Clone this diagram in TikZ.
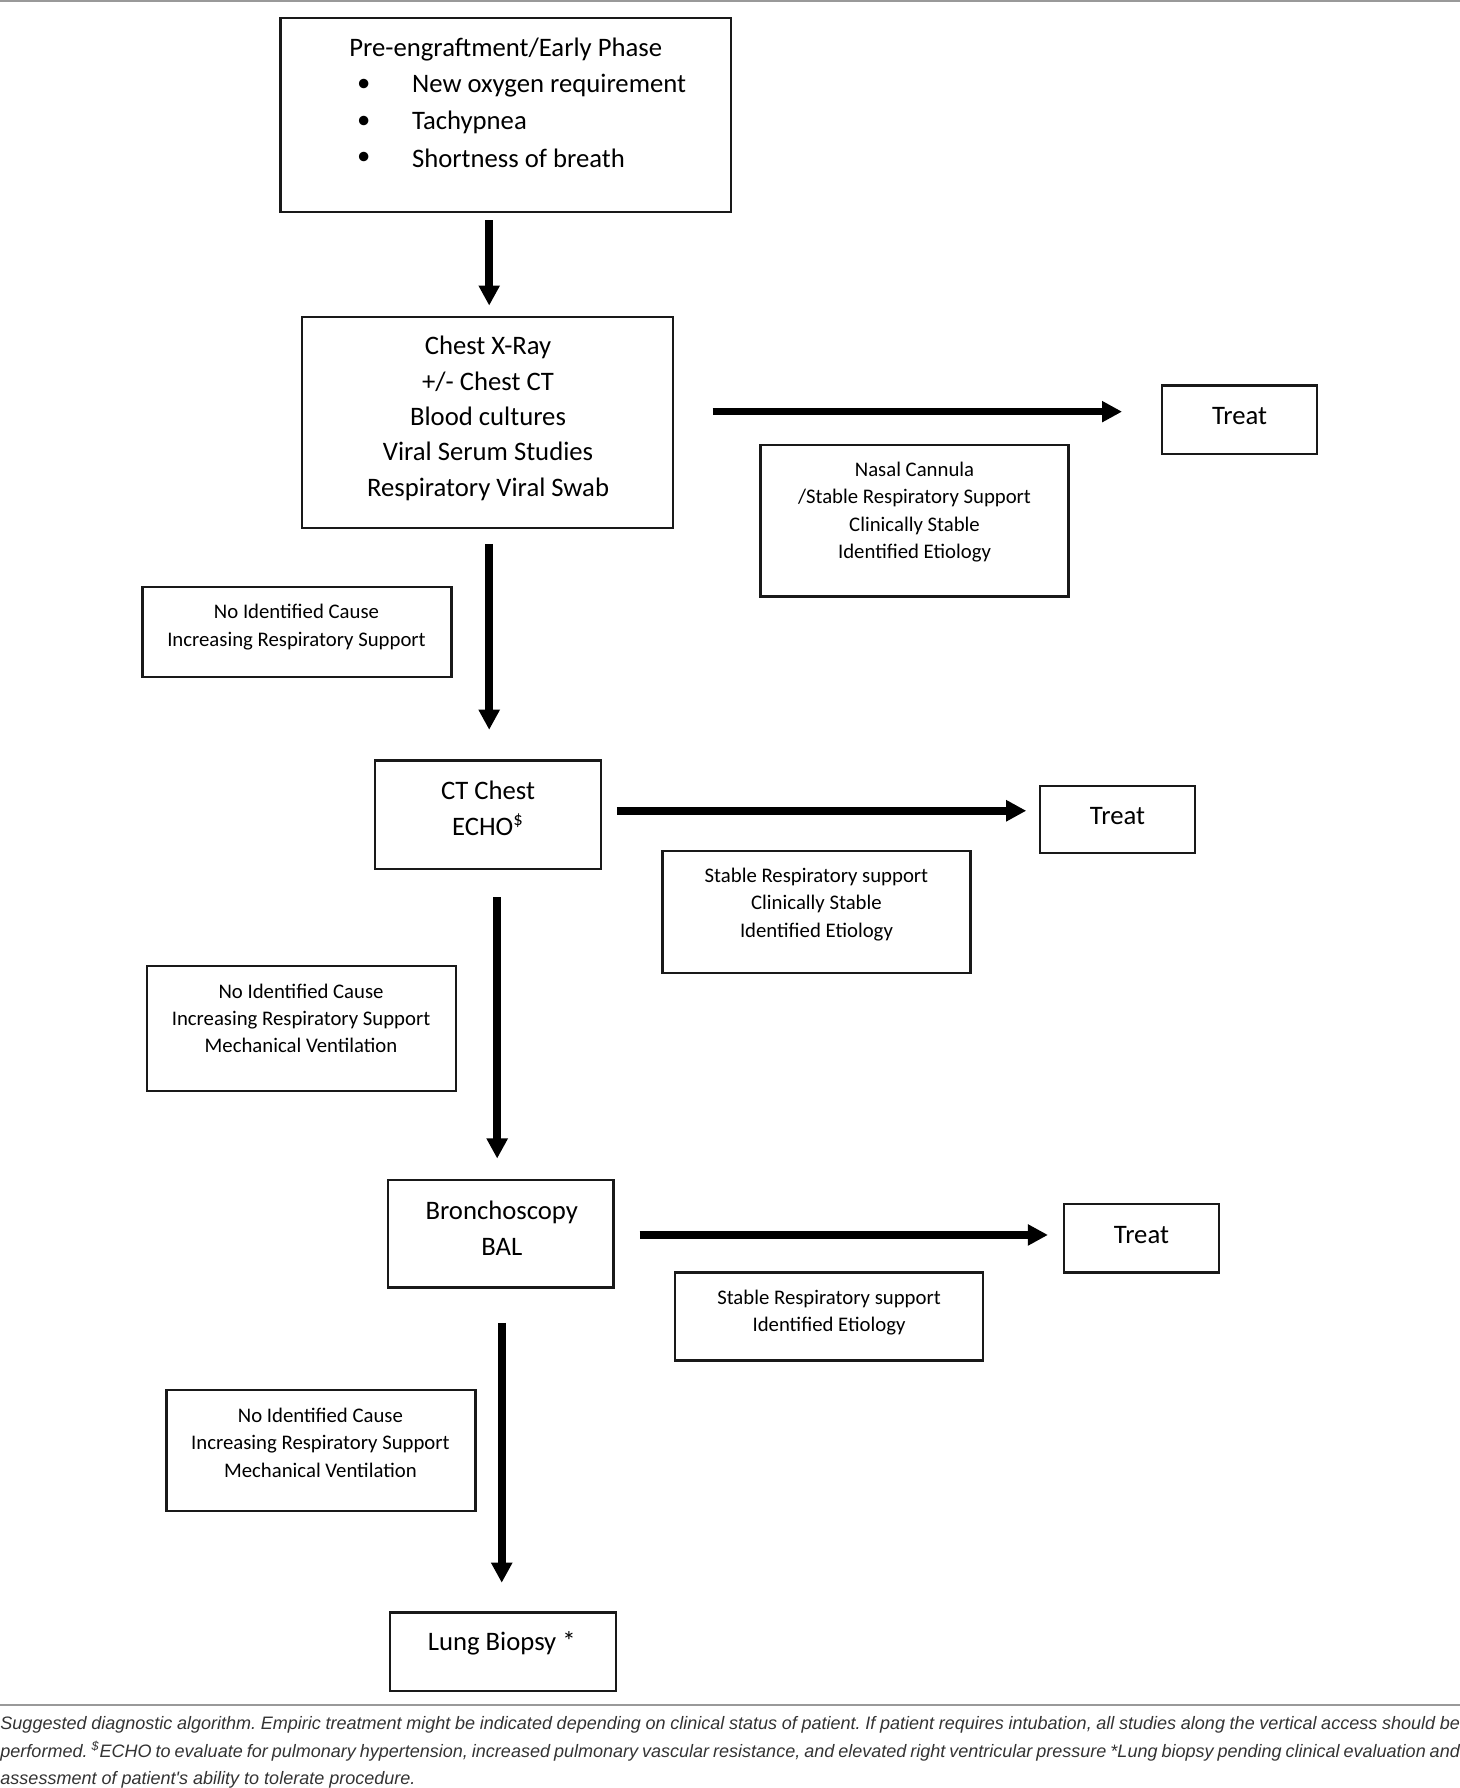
\documentclass[tikz,border=0pt]{standalone}
\usepackage{fontspec}
\setmainfont{Carlito}
\newfontfamily\capfont{Liberation Sans}
\usetikzlibrary{fit,arrows.meta}
\begin{document}
\begin{tikzpicture}[x=0.5pt,y=-0.5pt,
  box/.style={draw=black!90,line width=1pt,inner sep=0pt},
  bigtxt/.style={font=\fontsize{11.7}{15.5}\selectfont,align=center,inner sep=0pt},
  smalltxt/.style={font=\fontsize{9.1}{12}\selectfont,align=center,inner sep=0pt},
  flow/.style={line width=3.3pt,-{Triangle[length=8.8pt,width=8.8pt]}}]
\useasboundingbox (0,0) rectangle (1280,1568);
\draw[black!40,line width=1pt] (0,0.5) -- (1280,0.5);
% boxes
\node[box,fit={(246,16) (641,186)}] (pre) {};
\node[box,fit={(265,278) (590,463)}] (cxr) {};
\node[box,fit={(1019,338) (1155,398)}] (treat1) {};
\node[box,fit={(667,390) (937,523)}] (nasal) {};
\node[box,fit={(125,515) (396,594)}] (noid1) {};
\node[box,fit={(329,667) (527,762)}] (ct) {};
\node[box,fit={(912,689) (1048,748)}] (treat2) {};
\node[box,fit={(581,746) (851,853)}] (stable2) {};
\node[box,fit={(129,847) (400,957)}] (noid2) {};
\node[box,fit={(340,1035) (538,1129)}] (bronch) {};
\node[box,fit={(933,1056) (1069,1116)}] (treat3) {};
\node[box,fit={(592,1116) (862,1193)}] (stable3) {};
\node[box,fit={(146,1219) (417,1325)}] (noid3) {};
\node[box,fit={(342,1414) (540,1483)}] (lung) {};
% texts
\node[bigtxt,anchor=west] (pret) at (306,43) {Pre-engraftment/Early Phase};
\node[bigtxt] (b1) at (319,75) {\textbullet};
\node[bigtxt] (b2) at (319,107) {\textbullet};
\node[bigtxt] (b3) at (319,139) {\textbullet};
\node[bigtxt,anchor=west] (i1) at (361,75) {New oxygen requirement};
\node[bigtxt,anchor=west] (i2) at (361,107) {Tachypnea};
\node[bigtxt,anchor=west] (i3) at (361,139) {Shortness of breath};
\node[bigtxt] (cxrt) at (428,367) {Chest X-Ray\\+/- Chest CT\\Blood cultures\\Viral Serum Studies\\Respiratory Viral Swab};
\node[bigtxt] (t1) at (1087,365) {Treat};
\node[smalltxt] (nasalt) at (802,449) {Nasal Cannula\\/Stable Respiratory Support\\Clinically Stable\\Identified Etiology};
\node[smalltxt] (noid1t) at (260,550) {No Identified Cause\\Increasing Respiratory Support};
\node[bigtxt] (ctt) at (428,709) {CT Chest\\ECHO\textsuperscript{\$}};
\node[bigtxt] (t2) at (980,716) {Treat};
\node[smalltxt] (stable2t) at (716,793) {Stable Respiratory support\\Clinically Stable\\Identified Etiology};
\node[smalltxt] (noid2t) at (264,893) {No Identified Cause\\Increasing Respiratory Support\\Mechanical Ventilation};
\node[bigtxt] (bronct) at (440,1077) {Bronchoscopy\\BAL};
\node[bigtxt] (t3) at (1001,1083) {Treat};
\node[smalltxt] (stable3t) at (727,1151) {Stable Respiratory support\\Identified Etiology};
\node[smalltxt] (noid3t) at (281,1265) {No Identified Cause\\Increasing Respiratory Support\\Mechanical Ventilation};
\node[bigtxt] (lungt) at (440,1441) {Lung Biopsy *};
% arrow end points
\coordinate (a1s) at (429,193); \coordinate (a1e) at (429,268);
\coordinate (a2s) at (625,361); \coordinate (a2e) at (984,361);
\coordinate (a3s) at (429,477); \coordinate (a3e) at (429,640);
\coordinate (a4s) at (541,711); \coordinate (a4e) at (900,711);
\coordinate (a5s) at (436,787); \coordinate (a5e) at (436,1016);
\coordinate (a6s) at (561,1083); \coordinate (a6e) at (919,1083);
\coordinate (a7s) at (440,1160); \coordinate (a7e) at (440,1388);
\draw[flow] (a1s) -- (a1e);
\draw[flow] (a2s) -- (a2e);
\draw[flow] (a3s) -- (a3e);
\draw[flow] (a4s) -- (a4e);
\draw[flow] (a5s) -- (a5e);
\draw[flow] (a6s) -- (a6e);
\draw[flow] (a7s) -- (a7e);
% caption
\draw[black!40,line width=1pt] (0,1495) -- (1280,1495);
\node[anchor=north west,inner sep=0pt,text width=640pt,align=justify,
  font=\capfont\itshape\fontsize{7.9}{12}\selectfont\frenchspacing,text=black!80] (cap) at (0,1505)
{Suggested diagnostic algorithm. Empiric treatment might be indicated depending on clinical status of patient. If patient requires intubation, all studies along the vertical access should be\linebreak performed. \textsuperscript{\$}ECHO to evaluate for pulmonary hypertension, increased pulmonary vascular resistance, and elevated right ventricular pressure *Lung biopsy pending clinical evaluation and\linebreak assessment of patient's ability to tolerate procedure.};
\end{tikzpicture}
\end{document}
